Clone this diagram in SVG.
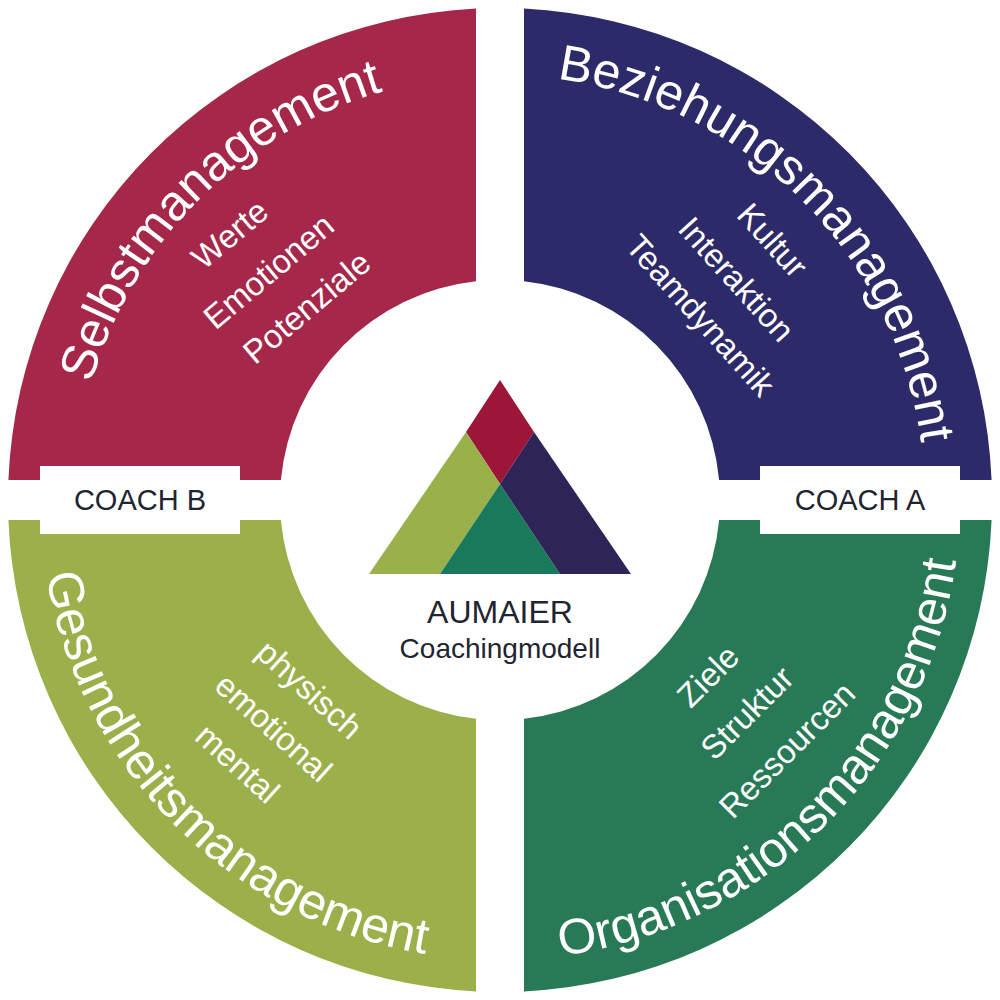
<svg xmlns="http://www.w3.org/2000/svg" width="1000" height="1000" viewBox="0 0 1000 1000">
<style>
.big{font-family:"Liberation Sans",Arial,sans-serif;font-size:50px;fill:#fff}
.sm{font-family:"Liberation Sans",Arial,sans-serif;font-size:33px;fill:#fff;text-anchor:middle}
.coach{font-family:"Liberation Sans",Arial,sans-serif;font-size:29px;fill:#1f2530;text-anchor:middle}
.ctr{font-family:"Liberation Sans",Arial,sans-serif;fill:#1f2530;text-anchor:middle}
</style>
<defs>
<path id="pTL" d="M75,500 A425,425 0 0 1 500,75"/>
<path id="pTR" d="M500,75 A425,425 0 0 1 925,500"/>
<path id="pBL" d="M40,500 A460,460 0 0 0 500,960"/>
<path id="pBR" d="M500,960 A460,460 0 0 0 960,500"/>
</defs>
<rect width="1000" height="1000" fill="#fff"/>
<g id="selbst">
<path d="M476,8.6 L476,281.3 A220,220 0 0 0 280.9,480 L8.4,480 A492,492 0 0 1 476,8.6 Z" fill="#A5284B"/>
<text class="big"><textPath href="#pTL" startOffset="50%" text-anchor="middle">Selbstmanagement</textPath></text>
<text class="sm" transform="translate(237,243) rotate(-40)">Werte</text>
<text class="sm" transform="translate(276,280) rotate(-40)">Emotionen</text>
<text class="sm" transform="translate(314,316) rotate(-40)">Potenziale</text>
</g>
<g id="beziehung">
<path d="M524,8.6 L524,281.3 A220,220 0 0 1 719.1,480 L991.6,480 A492,492 0 0 0 524,8.6 Z" fill="#2D2A6A"/>
<text class="big"><textPath href="#pTR" startOffset="50%" text-anchor="middle">Beziehungsmanagement</textPath></text>
<text class="sm" transform="translate(764,248) rotate(48)">Kultur</text>
<text class="sm" transform="translate(728,287) rotate(48)">Interaktion</text>
<text class="sm" transform="translate(692,323) rotate(48)">Teamdynamik</text>
</g>
<g id="gesundheit">
<path d="M476,991.4 L476,718.7 A220,220 0 0 1 280.9,520 L8.4,520 A492,492 0 0 0 476,991.4 Z" fill="#9BB04B"/>
<text class="big"><textPath href="#pBL" startOffset="50%" text-anchor="middle">Gesundheitsmanagement</textPath></text>
<text class="sm" transform="translate(302,698) rotate(42)">physisch</text>
<text class="sm" transform="translate(266,736) rotate(42)">emotional</text>
<text class="sm" transform="translate(230,772) rotate(42)">mental</text>
</g>
<g id="organisation">
<path d="M524,991.4 L524,718.7 A220,220 0 0 0 719.1,520 L991.6,520 A492,492 0 0 1 524,991.4 Z" fill="#287A56"/>
<text class="big"><textPath href="#pBR" startOffset="50%" text-anchor="middle">Organisationsmanagement</textPath></text>
<text class="sm" transform="translate(716,684) rotate(-45)">Ziele</text>
<text class="sm" transform="translate(755,721) rotate(-45)">Struktur</text>
<text class="sm" transform="translate(795,758) rotate(-45)">Ressourcen</text>
</g>
<g id="coachB"><rect x="40" y="466" width="200" height="68" fill="#fff"/><text class="coach" x="140" y="510">COACH B</text></g>
<g id="coachA"><rect x="760" y="466" width="200" height="68" fill="#fff"/><text class="coach" x="860" y="510">COACH A</text></g>
<g id="logo">
<polygon points="500,380 534,432 500,484 466,432" fill="#9B1638"/>
<polygon points="466,432 500,484 440,574 369,574" fill="#9AB04A"/>
<polygon points="500,484 440,574 560,574" fill="#187A5A"/>
<polygon points="534,432 631,574 560,574 500,484" fill="#2E2458"/>
<text class="ctr" x="500" y="623" font-size="32">AUMAIER</text>
<text class="ctr" x="500" y="658" font-size="28">Coachingmodell</text>
</g>
</svg>
